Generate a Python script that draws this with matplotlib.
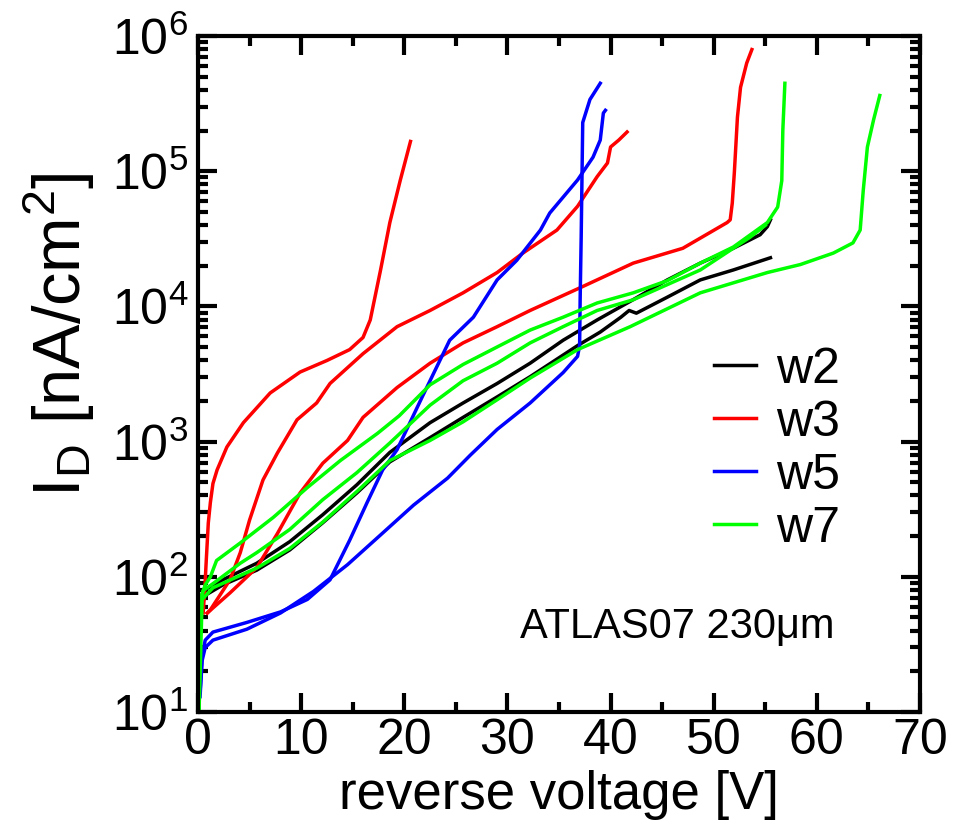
import matplotlib
matplotlib.use('Agg')
import matplotlib.pyplot as plt
from matplotlib.ticker import MultipleLocator, LogLocator, NullFormatter

plt.rcParams['font.family'] = ['Liberation Sans', 'DejaVu Sans']
plt.rcParams['mathtext.fontset'] = 'custom'
plt.rcParams['mathtext.rm'] = 'Liberation Sans'
plt.rcParams['mathtext.it'] = 'Liberation Sans:italic'
plt.rcParams['mathtext.default'] = 'regular'

# reverse voltage [V] and leakage current density [nA/cm^2]
# w2 (black), two curves
w2_a_V = [0.2, 0.5, 2.4, 5.7, 8.9, 12.1, 15.4, 18.6, 22.5, 25.7, 29.0, 32.2, 35.4, 38.7, 42.0, 45.5, 48.7, 51.9, 54.5, 55.2, 55.5]
w2_a_I = [62, 79, 95, 126, 182, 288, 479, 832, 1380, 1930, 2690, 3800, 5620, 7940, 11000, 15700, 20900, 26900, 33900, 38900, 43700]
w2_b_V = [0.2, 0.7, 2.4, 5.7, 8.9, 12.1, 15.4, 18.6, 22.5, 25.7, 29.0, 32.2, 36.8, 39.0, 41.0, 41.8, 42.5, 45.5, 48.7, 51.9, 55.5]
w2_b_I = [56, 73, 87, 112, 158, 251, 417, 708, 1070, 1510, 2140, 3020, 5130, 6460, 8320, 9330, 8910, 11700, 15700, 18600, 22900]

# w3 (red), three curves
w3_a_V = [0.5, 0.65, 0.8, 1.0, 1.2, 1.45, 1.85, 2.8, 4.4, 7.0, 9.9, 12.5, 14.7, 16.0, 16.7, 17.7, 18.6, 19.6, 20.6]
w3_a_I = [54, 79, 132, 251, 355, 490, 617, 912, 1380, 2290, 3270, 3980, 4790, 5890, 7940, 18600, 41700, 85100, 166000]
w3_b_V = [0.9, 1.2, 3.1, 4.1, 5.0, 6.3, 7.7, 9.6, 11.5, 12.8, 16.0, 19.3, 22.5, 25.7, 29.0, 31.5, 34.8, 36.8, 38.7, 39.7, 40.0, 40.8, 41.6]
w3_b_I = [54, 57, 95, 151, 263, 520, 824, 1450, 1930, 2690, 4470, 7080, 9330, 12600, 17800, 24800, 36700, 55000, 91200, 115000, 151000, 170000, 195000]
w3_c_V = [0.9, 3.1, 5.7, 7.7, 9.9, 12.1, 14.5, 16.0, 19.3, 22.5, 25.7, 29.0, 32.2, 37.1, 42.2, 47.0, 51.3, 51.6, 51.8, 52.0, 52.3, 52.6, 53.2, 53.7]
w3_c_I = [54, 76, 117, 209, 417, 692, 1020, 1510, 2510, 3800, 5370, 7080, 9330, 13800, 20900, 26900, 41700, 43700, 58200, 97700, 251000, 417000, 631000, 794000]

# w5 (blue), two curves
w5_a_V = [0.2, 0.4, 0.7, 1.45, 4.75, 8.0, 10.6, 12.8, 14.7, 16.4, 17.9, 19.3, 21.8, 24.4, 26.7, 29.0, 30.9, 33.2, 34.1, 36.8, 38.3, 39.0, 39.3, 39.5]
w5_a_I = [14, 26, 34, 39, 46, 55, 68, 95, 186, 355, 617, 871, 2190, 5620, 8320, 15700, 21900, 36700, 49000, 86100, 127000, 170000, 269000, 282000]
w5_b_V = [0.2, 0.4, 0.7, 1.45, 4.75, 8.0, 11.2, 14.5, 17.7, 20.9, 24.2, 26.4, 29.0, 32.2, 35.4, 36.8, 37.0, 37.05, 37.15, 37.3, 38.0, 39.0]
w5_b_I = [13, 24, 30, 34, 41, 54, 78, 123, 204, 339, 537, 794, 1230, 1930, 3240, 4270, 5130, 11200, 32400, 229000, 339000, 447000]

# w7 (green), three curves
w7_a_V = [0.1, 0.2, 0.7, 1.2, 1.8, 4.1, 7.3, 10.6, 13.8, 17.4, 19.5, 22.5, 25.7, 29.0, 32.2, 35.4, 38.7, 42.2, 45.5, 48.7, 51.9, 55.2, 56.2, 56.6, 56.7, 56.9]
w7_a_I = [10, 68, 87, 100, 132, 178, 275, 457, 724, 1150, 1550, 2630, 3720, 5010, 6680, 8320, 10600, 12600, 15500, 20900, 27500, 41700, 54300, 85100, 200000, 447000]
w7_b_V = [0.1, 0.2, 0.5, 1.45, 4.1, 5.7, 8.9, 12.1, 15.4, 18.6, 22.5, 25.7, 29.0, 32.2, 35.4, 38.7, 42.2, 48.7, 53.5, 55.0]
w7_b_I = [10, 63, 79, 89, 126, 151, 224, 372, 589, 977, 1860, 2820, 3800, 5370, 7080, 9330, 11200, 18600, 32400, 39800]
w7_c_V = [0.1, 0.4, 1.45, 5.7, 8.9, 12.1, 15.4, 18.6, 22.5, 25.7, 29.0, 32.2, 36.8, 41.9, 48.7, 55.2, 58.4, 61.6, 63.5, 64.2, 64.5, 64.9, 65.5, 66.1]
w7_c_I = [10, 68, 83, 116, 162, 254, 427, 724, 1020, 1400, 2040, 2950, 4790, 7080, 12600, 17800, 20400, 24800, 29500, 36700, 72400, 151000, 240000, 363000]

wafers = ['w2', 'w3', 'w5', 'w7']
colors = ['black', '#ff0000', '#0000ff', '#00ff00']
curves = [
    [(w2_a_V, w2_a_I), (w2_b_V, w2_b_I)],
    [(w3_a_V, w3_a_I), (w3_b_V, w3_b_I), (w3_c_V, w3_c_I)],
    [(w5_a_V, w5_a_I), (w5_b_V, w5_b_I)],
    [(w7_a_V, w7_a_I), (w7_b_V, w7_b_I), (w7_c_V, w7_c_I)],
]

fig = plt.figure(figsize=(9.65, 8.23), dpi=100)
ax = fig.add_axes([198/965, 1 - 712/823, 722/965, 676/823])

handles = []
for name, col, group in zip(wafers, colors, curves):
    for k, (v, i) in enumerate(group):
        ln, = ax.plot(v, i, color=col, lw=2.5, label=name if k == 0 else None)
        if k == 0:
            handles.append(ln)

ax.set_yscale('log')
ax.set_xlim(0, 70)
ax.set_ylim(10, 1e6)

ax.xaxis.set_major_locator(MultipleLocator(10))
ax.xaxis.set_minor_locator(MultipleLocator(5))
yt = [1e1, 1e2, 1e3, 1e4, 1e5, 1e6]
ax.set_yticks(yt)
ax.set_yticklabels(['$10^{%d}$' % e for e in range(1, 7)])
ax.yaxis.set_minor_locator(LogLocator(base=10, subs=range(2, 10)))
ax.yaxis.set_minor_formatter(NullFormatter())

ax.tick_params(which='both', direction='in', top=True, right=True, width=3)
ax.tick_params(which='major', length=14, labelsize=36)
ax.tick_params(which='minor', length=7)
ax.tick_params(axis='x', which='major', pad=4)
ax.tick_params(axis='y', which='major', pad=7)
for s in ax.spines.values():
    s.set_linewidth(3)

ax.set_xlabel('reverse voltage [V]', fontsize=38, labelpad=5)
ax.set_ylabel('I$_D$ [nA/cm$^2$]', fontsize=48)
ax.yaxis.set_label_coords(-0.14, 0.558)

ax.legend(handles=handles, loc='upper left', bbox_to_anchor=(0.714, 0.54),
          frameon=False, fontsize=36, handlelength=0.85, handletextpad=0.4,
          labelspacing=0.14, borderpad=0, borderaxespad=0)

ax.text(0.446, 0.109, 'ATLAS07 230μm', transform=ax.transAxes,
        fontsize=30, va='baseline', ha='left')

fig.savefig('out.png', dpi=100)
